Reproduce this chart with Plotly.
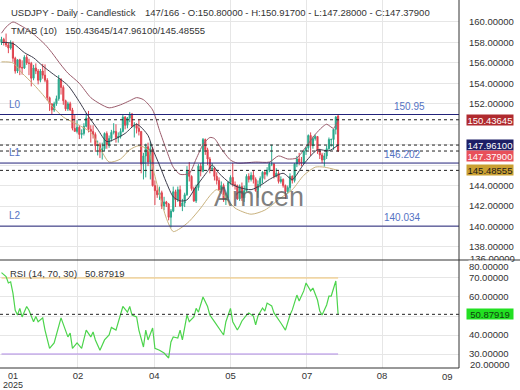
import plotly.graph_objects as go
import pandas as pd

# ---------------- data ----------------
dates = pd.bdate_range("2025-01-08", "2025-08-01").strftime("%Y-%m-%d").tolist()

opens = [158.00, 158.30, 158.05,
         157.75, 157.45, 157.95, 156.45, 155.20,
         156.30, 155.55, 155.50, 156.55, 156.00,
         155.95, 154.50, 155.50, 155.20, 154.30,
         155.20, 154.80, 154.30, 152.60, 152.00,
         151.40, 152.00, 152.50, 154.40, 153.60,
         152.30, 151.50, 152.00, 151.40, 149.60,
         149.30, 149.70, 149.00, 149.10, 149.80,
         150.60, 149.50, 149.30, 149.00, 147.90,
         148.00, 147.30, 147.60, 149.10, 148.00,
         148.60, 149.20, 149.30, 148.70, 148.80,
         149.30, 150.70, 149.90, 150.60, 151.00,
         149.80, 149.90, 149.60, 149.30, 146.10,
         146.90, 147.80, 146.30, 147.60, 144.00,
         143.50, 143.10, 143.30, 142.00, 142.40,
         142.20, 140.90, 141.50, 143.40, 142.60,
         143.60, 142.00, 142.30, 143.10, 145.40,
         144.90, 143.70, 142.50, 143.80, 145.90,
         145.40, 148.50, 147.50, 146.60, 145.60,
         145.70, 144.90, 144.50, 143.60, 144.00,
         142.60, 142.80, 144.30, 144.80, 144.10,
         144.00, 142.70, 143.90, 142.80, 143.50,
         144.90, 144.60, 145.00, 144.60, 143.50,
         144.10, 144.70, 145.30, 145.10, 145.50,
         146.10, 146.10, 144.90, 145.20, 144.40,
         144.60, 144.00, 143.40, 143.80, 144.90,
         144.50, 146.10, 146.60, 146.30, 146.20,
         147.40, 147.70, 148.90, 147.90, 148.60,
         148.80, 147.40, 147.00, 146.50, 146.90,
         147.60, 148.50, 148.50, 149.50, 150.80]
highs = [158.55, 158.45, 158.87,
         157.98, 158.20, 158.10, 156.60, 156.35,
         156.40, 156.25, 156.75, 156.80, 156.40,
         156.10, 155.80, 155.95, 155.40, 155.40,
         155.90, 155.85, 154.50, 152.70, 152.00,
         152.20, 152.80, 154.80, 154.50, 153.80,
         152.40, 152.20, 152.20, 151.60, 150.90,
         150.40, 149.85, 149.50, 150.10, 151.10,
         151.30, 149.90, 149.90, 149.20, 148.40,
         148.20, 148.20, 149.20, 149.30, 148.90,
         149.45, 150.10, 150.00, 149.20, 149.60,
         150.90, 150.80, 150.70, 151.20, 151.10,
         150.20, 150.10, 150.50, 149.30, 147.20,
         148.10, 148.20, 148.30, 147.80, 144.50,
         144.00, 143.90, 143.50, 142.90, 142.50,
         142.30, 141.70, 143.90, 143.60, 143.90,
         144.00, 142.70, 143.30, 145.90, 146.30,
         145.00, 143.90, 144.10, 146.10, 146.20,
         148.65, 148.60, 147.70, 146.80, 146.20,
         145.80, 145.30, 144.80, 144.40, 144.20,
         143.30, 144.40, 145.00, 146.20, 144.40,
         144.10, 144.10, 144.30, 144.00, 145.10,
         145.20, 145.30, 145.50, 144.80, 144.50,
         144.90, 145.40, 145.40, 145.80, 146.30,
         148.00, 146.20, 145.70, 145.40, 144.90,
         144.70, 144.10, 144.00, 145.20, 145.00,
         146.20, 146.90, 147.20, 146.80, 147.50,
         147.80, 149.00, 149.20, 148.80, 149.00,
         148.80, 147.60, 147.20, 147.20, 147.90,
         148.70, 148.60, 149.50, 150.80, 150.917]
lows = [157.75, 157.70, 157.55,
        156.95, 157.30, 156.10, 154.95, 155.00,
        154.80, 154.85, 155.40, 155.80, 154.80,
        153.70, 154.30, 154.90, 153.90, 154.10,
        154.45, 154.10, 152.30, 151.30, 150.95,
        151.20, 151.80, 152.30, 152.90, 151.90,
        151.30, 151.30, 151.30, 149.40, 149.30,
        149.10, 148.55, 148.60, 148.90, 149.70,
        149.20, 148.20, 148.60, 147.30, 146.95,
        146.70, 146.55, 147.40, 147.60, 147.70,
        148.30, 149.00, 148.20, 148.20, 148.60,
        149.20, 149.50, 149.60, 150.20, 149.70,
        148.70, 149.10, 148.90, 145.20, 144.60,
        144.80, 145.90, 144.60, 143.90, 142.10,
        142.80, 142.60, 141.70, 141.60, 141.90,
        140.60, 139.90, 141.40, 141.90, 142.40,
        141.90, 141.50, 141.90, 143.00, 144.40,
        143.50, 142.40, 142.30, 143.50, 144.90,
        145.30, 147.00, 146.00, 145.20, 145.40,
        144.50, 144.10, 143.50, 143.30, 142.40,
        142.10, 142.50, 144.10, 143.90, 143.60,
        142.60, 142.50, 142.50, 142.40, 143.40,
        144.30, 144.40, 144.20, 143.40, 142.80,
        143.80, 144.20, 144.60, 144.90, 145.30,
        145.90, 144.70, 144.80, 144.20, 144.20,
        143.80, 142.70, 143.20, 143.40, 144.20,
        144.30, 145.80, 146.00, 145.90, 146.10,
        147.00, 147.50, 146.90, 147.60, 148.40,
        147.10, 146.60, 146.20, 145.85, 146.60,
        147.50, 147.80, 147.50, 149.00, 147.28]
closes = [158.30, 158.05, 157.75,
          157.45, 157.95, 156.45, 155.20, 156.30,
          155.55, 155.50, 156.55, 156.00, 155.95,
          154.50, 155.50, 155.20, 154.30, 155.20,
          154.80, 154.30, 152.60, 152.00, 151.40,
          152.00, 152.50, 154.40, 153.60, 152.30,
          151.50, 152.00, 151.40, 149.60, 149.30,
          149.70, 149.00, 149.10, 149.80, 150.60,
          149.50, 149.30, 149.00, 147.90, 148.00,
          147.30, 147.60, 149.10, 148.00, 148.60,
          149.20, 149.30, 148.70, 148.80, 149.30,
          150.70, 149.90, 150.60, 151.00, 149.80,
          149.90, 149.60, 149.30, 146.10, 146.90,
          147.80, 146.30, 147.60, 144.00, 143.50,
          143.10, 143.30, 142.00, 142.40, 142.20,
          140.90, 141.50, 143.40, 142.60, 143.60,
          142.00, 142.30, 143.10, 145.40, 144.90,
          143.70, 142.50, 143.80, 145.90, 145.40,
          148.50, 147.50, 146.60, 145.60, 145.70,
          144.90, 144.50, 143.60, 144.00, 142.60,
          142.80, 144.30, 144.80, 144.10, 144.00,
          142.70, 143.90, 142.80, 143.50, 144.90,
          144.60, 145.00, 144.60, 143.50, 144.10,
          144.70, 145.30, 145.10, 145.50, 146.10,
          146.10, 144.90, 145.20, 144.40, 144.60,
          144.00, 143.40, 143.80, 144.90, 144.50,
          146.10, 146.60, 146.30, 146.20, 147.40,
          147.70, 148.90, 147.90, 148.60, 148.80,
          147.40, 147.00, 146.50, 146.90, 147.60,
          148.50, 148.50, 149.50, 150.70, 147.379]

# TMAB (10) bands at these bar numbers
upper_bar = [0, 2, 5, 8, 13, 19, 22, 26, 29, 34, 39, 43, 47, 52, 56, 59, 62, 66, 69, 72,
             75, 78, 82, 85, 88, 91, 93, 96, 100, 103, 111, 117, 121, 125, 129, 133,
             137, 140, 142, 145, 147]
upper_val = [158.9, 159.5, 160.0, 159.7, 159.0, 157.8, 157.0, 155.8, 155.0, 154.0, 152.6,
             152.0, 151.6, 151.9, 152.3, 152.6, 152.4, 151.4, 149.4, 147.5, 145.8, 145.1,
             145.2, 146.6, 148.0, 148.7, 148.6, 147.6, 146.5, 146.2, 146.3, 146.3, 146.9,
             146.6, 146.7, 147.8, 149.0, 149.7, 150.0, 149.6, 150.43645]
mid_bar = [0, 5, 10, 14, 18, 22, 29, 34, 37, 42, 46, 50, 54, 59, 64, 66, 69, 72, 75, 78,
           81, 85, 90, 92, 95, 100, 104, 109, 113, 117, 123, 127, 132, 138, 143, 147]
mid_val = [158.0, 157.9, 157.0, 156.5, 155.7, 155.0, 153.8, 152.2, 151.1, 149.5, 148.3,
           148.6, 149.1, 150.0, 148.9, 147.6, 146.0, 144.3, 142.9, 142.5, 142.6, 143.9,
           145.4, 146.0, 145.2, 144.2, 143.8, 143.6, 144.0, 144.6, 145.2, 144.6, 146.1,
           147.5, 147.4, 147.961]
lower_bar = [0, 5, 9, 14, 18, 22, 27, 33, 39, 43, 47, 52, 56, 60, 64, 66, 69, 72, 75, 78,
             82, 87, 91, 94, 98, 102, 109, 115, 122, 127, 132, 137, 141, 147]
lower_val = [156.1, 156.0, 155.0, 153.9, 152.9, 151.8, 150.7, 150.0, 149.2, 147.7, 146.3,
             146.6, 147.5, 147.9, 147.5, 145.8, 143.2, 140.8, 139.5, 139.8, 140.5, 141.8,
             143.0, 143.6, 142.8, 141.8, 141.2, 141.6, 142.8, 143.6, 145.0, 145.8, 145.8,
             145.48555]

# RSI (14) at these bar numbers
rsi_bar = [0, 2, 3, 4, 5, 6, 7, 8, 9, 10, 11, 12, 14, 15, 16, 18, 19, 21, 23, 26, 28, 29,
           30, 31, 33, 35, 37, 39, 40, 41, 43, 45, 47, 48, 50, 51, 53, 55, 56, 57, 59, 60,
           62, 63, 64, 66, 67, 69, 71, 73, 74, 75, 77, 78, 79, 81, 82, 84, 85, 86, 88, 90,
           91, 93, 95, 97, 98, 100, 101, 103, 104, 105, 107, 108, 110, 111, 112, 114, 115,
           116, 118, 119, 122, 124, 126, 127, 129, 130, 132, 133, 135, 136, 138, 139, 140,
           142, 143, 144, 146, 147]
rsi_val = [72.8, 70.7, 67.4, 68.0, 62.0, 53.0, 50.5, 54.0, 49.5, 52.0, 55.0, 53.0, 47.0,
           49.7, 47.0, 49.0, 42.6, 33.0, 35.8, 49.0, 42.6, 39.0, 41.0, 33.0, 35.8, 33.0,
           42.6, 39.0, 41.6, 37.4, 32.0, 37.4, 40.0, 44.0, 42.6, 47.0, 55.0, 52.0, 55.0,
           50.5, 49.5, 42.6, 33.7, 42.6, 37.4, 43.7, 33.0, 32.0, 30.5, 27.9, 36.3, 39.0,
           38.4, 42.6, 37.4, 50.5, 47.0, 49.5, 54.0, 52.0, 60.0, 55.0, 50.5, 47.0, 43.7,
           40.0, 47.0, 54.0, 47.0, 42.6, 44.7, 47.4, 50.5, 51.6, 50.0, 45.3, 50.0, 54.2,
           52.6, 56.8, 55.3, 51.6, 46.3, 42.6, 50.5, 53.2, 61.0, 57.9, 63.2, 67.4, 63.2,
           64.7, 58.4, 52.6, 50.5, 55.8, 60.5, 60.5, 68.4, 50.87919]

level_names = ["L0", "L1", "L2"]
level_values = [150.95, 146.202, 140.034]
level_text = ["150.95", "146.202", "140.034"]
tmab_last = [150.43645, 147.96100, 145.48555]
last_close = 147.379
rsi_last = 50.87919
rsi_levels = [70, 30]

month_ticks = ["02", "04", "05", "07", "08"]
month_tick_bar = [33.4, 66.7, 100.0, 133.4, 166.2]
price_ticks = [138, 140, 142, 144, 146, 148, 150, 152, 154, 156, 158, 160]
rsi_ticks = [30, 40, 50, 60, 70]

bar = list(range(len(dates)))

# ---------------- styling ----------------
UP = "#2aa88c"
DN = "#e0444f"
FONT = "Liberation Sans, Arial, sans-serif"
TXT = "#333333"
GRID = "#e6e6e6"
BLUE_LBL = "#5573c4"
NAVY = "#23237a"

PLOT_W = 459.0
PLOT_H = 368.0
SPLIT = 108.0 / PLOT_H  # RSI pane height fraction


def px(xp):
    return xp / PLOT_W


def py(yp):
    return 1 - yp / PLOT_H


fig = go.Figure()

fig.add_trace(go.Candlestick(
    x=bar, open=opens, high=highs, low=lows, close=closes,
    increasing=dict(line=dict(color=UP, width=1), fillcolor=UP),
    decreasing=dict(line=dict(color=DN, width=1), fillcolor=DN),
    whiskerwidth=0, showlegend=False, hoverinfo="skip",
    xaxis="x", yaxis="y"))

for bx, bv, col in [(upper_bar, upper_val, "#9b5c6c"),
                    (mid_bar, mid_val, "#3c3c4c"),
                    (lower_bar, lower_val, "#c9b27e")]:
    fig.add_trace(go.Scatter(x=bx, y=bv, mode="lines",
                             line=dict(color=col, width=1, shape="spline", smoothing=0.7),
                             showlegend=False, hoverinfo="skip", xaxis="x", yaxis="y"))

# RSI
fig.add_trace(go.Scatter(x=[bar[0], bar[-1]], y=[rsi_levels[0]] * 2, mode="lines",
                         line=dict(color="#f2c46e", width=1.2), showlegend=False,
                         hoverinfo="skip", xaxis="x2", yaxis="y2"))
fig.add_trace(go.Scatter(x=[bar[0], bar[-1]], y=[rsi_levels[1]] * 2, mode="lines",
                         line=dict(color="#b08ae6", width=1.2), showlegend=False,
                         hoverinfo="skip", xaxis="x2", yaxis="y2"))
fig.add_trace(go.Scatter(x=rsi_bar, y=rsi_val, mode="lines",
                         line=dict(color="#4cd44c", width=1.2), showlegend=False,
                         hoverinfo="skip", xaxis="x2", yaxis="y2"))

shapes = []
for v in level_values:
    shapes.append(dict(type="line", xref="paper", yref="y", x0=0, x1=1, y0=v, y1=v,
                       line=dict(color=NAVY, width=1)))
for v in tmab_last + [last_close]:
    shapes.append(dict(type="line", xref="paper", yref="y", x0=0, x1=1, y0=v, y1=v,
                       line=dict(color="#222222", width=1, dash="3px,3px")))
shapes.append(dict(type="line", xref="paper", yref="y2", x0=0, x1=1, y0=rsi_last, y1=rsi_last,
                   line=dict(color="#222222", width=1, dash="3px,3px")))
# pane borders
shapes.append(dict(type="line", xref="paper", yref="paper", x0=0, x1=520 / PLOT_W,
                   y0=SPLIT, y1=SPLIT, line=dict(color="#333333", width=1)))
shapes.append(dict(type="line", xref="paper", yref="paper", x0=0, x1=1,
                   y0=0, y1=0, line=dict(color="#333333", width=1)))
shapes.append(dict(type="line", xref="paper", yref="paper", x0=1, x1=1,
                   y0=0, y1=1, line=dict(color="#333333", width=1)))

ann = []
tf = dict(family=FONT, size=9.5, color=TXT)
ann.append(dict(text="USDJPY - Daily - Candlestick", x=px(9), y=py(12), xref="paper",
                yref="paper", xanchor="left", yanchor="middle", showarrow=False, font=tf))
ann.append(dict(text="147/166 - O:150.80000 - H:150.91700 - L:147.28000 - C:147.37900",
                x=px(143), y=py(12), xref="paper", yref="paper", xanchor="left",
                yanchor="middle", showarrow=False, font=tf))
ann.append(dict(text="TMAB (10)", x=px(9), y=py(30), xref="paper", yref="paper",
                xanchor="left", yanchor="middle", showarrow=False, font=tf))
ann.append(dict(text="/".join(f"{v:.5f}" for v in tmab_last), x=px(63), y=py(30),
                xref="paper", yref="paper", xanchor="left", yanchor="middle",
                showarrow=False, font=tf))
ann.append(dict(text="RSI (14, 70, 30)", x=px(8), y=py(273), xref="paper", yref="paper",
                xanchor="left", yanchor="middle", showarrow=False, font=tf))
ann.append(dict(text=f"{rsi_last:.5f}", x=px(83), y=py(273), xref="paper", yref="paper",
                xanchor="left", yanchor="middle", showarrow=False, font=tf))

# level labels
lx_right = [409, 402, 402]
for name, v, t, xr in zip(level_names, level_values, level_text, lx_right):
    ann.append(dict(text=name, x=px(7), y=v, xref="paper", yref="y", xanchor="left",
                    yanchor="bottom", yshift=3, showarrow=False,
                    font=dict(family=FONT, size=10, color=BLUE_LBL)))
    ann.append(dict(text=t, x=px(xr), y=v, xref="paper", yref="y", xanchor="center",
                    yanchor="bottom", yshift=1, showarrow=False,
                    font=dict(family=FONT, size=10, color=BLUE_LBL)))

# watermark
ann.append(dict(text="Amicen", x=px(259), y=py(197), xref="paper", yref="paper",
                xanchor="center", yanchor="middle", showarrow=False,
                font=dict(family=FONT, size=27, color="rgba(85,85,85,0.75)")))

# clipped bottom price label and RSI edge labels
ann.append(dict(text="136.00000", x=px(468), y=py(258), xref="paper", yref="paper",
                xanchor="left", yanchor="middle", showarrow=False, font=tf))
ann.append(dict(text="80.00000 ", x=px(468), y=py(266.5), xref="paper", yref="paper",
                xanchor="left", yanchor="middle", showarrow=False, font=tf,
                bgcolor="white", borderpad=0))
ann.append(dict(text="20.00000", x=px(468), y=py(364), xref="paper", yref="paper",
                xanchor="left", yanchor="middle", showarrow=False, font=tf))

# value boxes (the last-close box is pushed down below its neighbour, as in the picture)
boxes = [(tmab_last[0], "y", "#b02a2e", "white", 0),
         (tmab_last[1], "y", "#1d1f66", "white", 0),
         (last_close, "y", "#e8505a", "white", -5),
         (tmab_last[2], "y", "#caa032", "#1a1a1a", 0),
         (rsi_last, "y2", "#22e022", "#104010", 0)]
for v, yr, bg, fc, ys in boxes:
    ann.append(dict(text=f"{v:.5f}", x=px(466), y=v, xref="paper", yref=yr,
                    xanchor="left", yanchor="middle", showarrow=False, bgcolor=bg,
                    borderpad=0, height=10, width=46, yshift=ys,
                    font=dict(family=FONT, size=9.5, color=fc)))

# x labels at the edges
xf = dict(family=FONT, size=9, color=TXT)
ann.append(dict(text="01", x=px(13), y=py(375.5), xref="paper", yref="paper",
                xanchor="center", yanchor="middle", showarrow=False, font=xf, height=9))
ann.append(dict(text="2025", x=px(13), y=py(384.8), xref="paper", yref="paper",
                xanchor="center", yanchor="middle", showarrow=False, font=xf, height=9))
ann.append(dict(text="09", x=px(447), y=py(376), xref="paper", yref="paper",
                xanchor="center", yanchor="middle", showarrow=False, font=tf))

xr = [-0.65, 199.8]
price_text = ["" if v in (146, 148, 150) else f"{v:.5f}" for v in price_ticks]
rsi_text = ["" if v == 50 else f"{v:.5f}" for v in rsi_ticks]

fig.update_layout(
    width=520, height=390,
    margin=dict(l=0, r=61, t=0, b=22),
    paper_bgcolor="white", plot_bgcolor="white",
    font=dict(family=FONT, size=9.5, color=TXT),
    showlegend=False,
    shapes=shapes, annotations=ann,
    xaxis=dict(domain=[0, 1], range=xr, anchor="y", tickvals=month_tick_bar,
               showticklabels=False, showgrid=True, gridcolor=GRID, zeroline=False,
               rangeslider=dict(visible=False), fixedrange=True, ticks=""),
    xaxis2=dict(domain=[0, 1], range=xr, anchor="y2", matches="x", tickvals=month_tick_bar,
                ticktext=month_ticks, showgrid=True, gridcolor=GRID, zeroline=False,
                ticks="", tickfont=dict(family=FONT, size=9.5, color=TXT)),
    yaxis=dict(domain=[SPLIT, 1], range=[136.72, 162.15], side="right", anchor="x",
               tickvals=price_ticks, ticktext=price_text, ticks="outside", ticklen=7,
               tickcolor="rgba(0,0,0,0)", showgrid=True, gridcolor=GRID, zeroline=False,
               tickfont=dict(family=FONT, size=9.5, color=TXT)),
    yaxis2=dict(domain=[0, SPLIT], range=[22.63, 79.47], side="right", anchor="x2",
                tickvals=rsi_ticks, ticktext=rsi_text, ticks="outside", ticklen=7,
                tickcolor="rgba(0,0,0,0)", showgrid=True, gridcolor=GRID, zeroline=False,
                tickfont=dict(family=FONT, size=9.5, color=TXT)),
)

fig.write_html("out.html", config={"displayModeBar": False},
               post_script="document.body.style.margin='0';document.body.style.padding='0';")
